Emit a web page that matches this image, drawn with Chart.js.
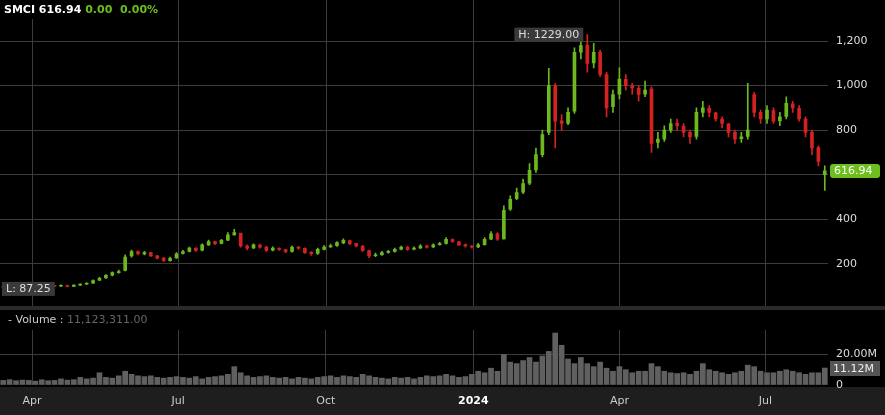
<!DOCTYPE html>
<html>
<head>
<meta charset="utf-8">
<script src="https://cdn.jsdelivr.net/npm/chart.js@4.4.1/dist/chart.umd.min.js"></script>
<style>
  html, body { margin: 0; padding: 0; background: #000; }
  #wrap { width: 885px; height: 415px; position: relative; }
  #priceBox { position: absolute; left: 0; top: 0; width: 885px; height: 306px; }
  #volBox { position: absolute; left: 0; top: 306px; width: 885px; height: 109px; }
</style>
</head>
<body>
<div id="wrap">
  <div id="priceBox"><canvas id="priceChart"></canvas></div>
  <div id="volBox"><canvas id="volChart"></canvas></div>
</div>
<script>
// days since 14 Mar 2023, one candle every 4 calendar days
const step = 4;
const opens = [
  98, 95, 93, 90, 93, 97, 100, 98, 101, 99, 102, 98, 104, 108, 113, 126, 136, 149, 160, 170,
  235, 255, 244, 250, 236, 226, 214, 226, 246, 256, 270, 261, 285, 300, 291, 306, 330, 338, 279, 271,
  284, 275, 261, 269, 264, 256, 274, 269, 251, 246, 264, 276, 281, 294, 304, 291, 279, 259, 236, 241,
  251, 256, 266, 274, 266, 271, 280, 276, 286, 291, 309, 299, 286, 279, 276, 286, 310, 334, 312, 445,
  492, 522, 562, 622, 690, 790, 1000, 842, 832, 885, 1150, 1182, 1102, 1150, 1050, 905, 962, 1028, 998, 988,
  962, 985, 745, 760, 800, 832, 818, 790, 772, 880, 898, 878, 850, 828, 790, 762, 772, 960, 880, 850,
  888, 842, 862, 918, 898, 850, 790, 722, 600
];
const closes = [
  95, 93, 90, 92, 97, 100, 98, 101, 99, 102, 98, 104, 108, 112, 125, 135, 148, 160, 165, 230,
  255, 245, 250, 235, 225, 215, 225, 245, 255, 270, 260, 285, 300, 290, 305, 330, 340, 280, 270, 285,
  275, 260, 270, 265, 255, 275, 270, 250, 245, 265, 275, 280, 295, 305, 290, 280, 260, 235, 240, 250,
  255, 265, 275, 265, 270, 280, 275, 285, 290, 310, 300, 285, 280, 275, 285, 310, 335, 310, 440, 490,
  520, 560, 620, 690, 780, 1000, 840, 830, 880, 1150, 1180, 1100, 1150, 1050, 900, 960, 1030, 1000, 990, 960,
  980, 740, 760, 800, 830, 820, 790, 770, 880, 900, 880, 850, 830, 790, 760, 770, 800, 880, 850, 890,
  840, 860, 920, 900, 850, 790, 720, 660, 617
];
const highs = [
  100, 97, 95, 93, 99, 103, 102, 103, 103, 105, 104, 106, 110, 116, 128, 139, 152, 164, 172, 240,
  262, 258, 256, 252, 238, 228, 230, 250, 260, 275, 272, 290, 306, 302, 310, 340, 355, 300, 285, 290,
  288, 278, 276, 272, 266, 280, 278, 272, 255, 270, 282, 288, 300, 312, 306, 292, 282, 262, 248, 256,
  260, 270, 280, 278, 276, 286, 284, 290, 296, 318, 312, 300, 288, 282, 292, 318, 345, 340, 460, 505,
  540, 580, 650, 720, 800, 1078, 1010, 870, 900, 1170, 1200, 1229, 1190, 1160, 1060, 980, 1080, 1050, 1010, 1000,
  1020, 995, 790, 820, 850, 850, 830, 800, 900, 930, 910, 880, 860, 830, 800, 790, 1010, 970, 890, 910,
  900, 880, 950, 930, 910, 860, 800, 730, 640
];
const lows = [
  92, 90, 87.25, 88, 92, 96, 96, 97, 97, 98, 96, 97, 103, 107, 112, 124, 134, 146, 158, 168,
  230, 240, 240, 233, 222, 210, 212, 224, 243, 253, 256, 258, 282, 286, 289, 304, 328, 275, 262, 268,
  270, 255, 258, 260, 250, 252, 264, 246, 238, 242, 262, 274, 278, 290, 286, 276, 255, 228, 232, 238,
  248, 252, 262, 260, 262, 268, 270, 272, 284, 288, 296, 282, 275, 270, 272, 284, 308, 305, 310, 440,
  488, 515, 555, 610, 680, 780, 720, 800, 825, 875, 1120, 1060, 1080, 1040, 860, 880, 940, 980, 960, 930,
  950, 700, 720, 750, 790, 800, 770, 740, 760, 860, 860, 840, 810, 770, 740, 745, 760, 860, 830, 830,
  830, 820, 850, 880, 840, 770, 690, 640, 530
];
const volumes = [
  3, 3.5, 2.8, 3.2, 3, 2.5, 3.4, 2.8, 3, 4, 3.2, 3.5, 5, 4, 4.5, 8, 5, 4.5, 6, 9,
  7, 6, 5.5, 6, 5, 4.5, 5, 5.5, 5, 4.5, 5.5, 4, 5, 5.5, 6, 7, 12, 8, 6, 5,
  5.5, 6, 5, 4.5, 5, 4, 5, 4.5, 4, 5, 5.5, 6, 5, 6, 5.5, 5, 7, 6, 5, 4.5,
  4, 5, 4.5, 5, 4, 5, 6, 5.5, 6, 7, 6, 5, 5.5, 7, 9, 8, 11, 9, 20, 15,
  14, 16, 18, 15, 19, 22, 34, 26, 17, 14, 18, 14, 12, 15, 11, 9, 12, 10, 8, 9,
  9, 14, 12, 9, 8, 7.5, 8, 7, 9, 14, 10, 9, 8, 7, 8, 9, 13, 12, 9, 8,
  8, 9, 10, 9, 8, 7, 8, 8, 11.12
];
const dayTicks = [18, 109, 201, 293, 384, 475];
const dayLabels = ['Apr', 'Jul', 'Oct', '2024', 'Apr', 'Jul'];
const priceTicks = [200, 400, 600, 800, 1000, 1200];

const lastPrice = 616.94;
const upColor = '#6cb81f';
const downColor = '#d42222';
const gridColor = '#3c3c3c';
const font = 'DejaVu Sans';

const days = closes.map((_, i) => i * step);
const candleColors = closes.map((c, i) => c >= opens[i] ? upColor : downColor);

function fixWidth(scale) { scale.width = 57; }
function setTicks(values) {
  return function (scale) { scale.ticks = values.map(v => ({ value: v })); };
}
function isYear(ctx) {
  return !!ctx.tick && dayLabels[dayTicks.indexOf(ctx.tick.value)] === '2024';
}

const xCommon = {
  type: 'linear', min: -2, max: 514, offset: false,
  afterBuildTicks: setTicks(dayTicks),
  grid: { color: gridColor, drawTicks: false, offset: false },
  border: { display: false }
};

const priceOverlay = {
  id: 'priceOverlay',
  beforeDraw(chart) {
    const c = chart.ctx, x = chart.scales.x;
    c.save();
    c.fillStyle = '#000';
    c.fillRect(0, 0, chart.width, chart.height);
    // month grid lines (x axis itself is hidden in this panel)
    c.strokeStyle = gridColor;
    c.lineWidth = 1;
    dayTicks.forEach(d => {
      const px = Math.round(x.getPixelForValue(d)) + 0.5;
      c.beginPath();
      c.moveTo(px, 0);
      c.lineTo(px, chart.height);
      c.stroke();
    });
    c.restore();
  },
  afterDraw(chart) {
    const c = chart.ctx, x = chart.scales.x, y = chart.scales.y;
    c.save();
    c.font = 'bold 11px ' + font;
    c.textBaseline = 'middle';
    let px = 4;
    c.fillStyle = '#000';
    c.fillRect(0, 0, 175, 19);
    c.fillStyle = '#fff';
    c.fillText('SMCI', px, 10); px += c.measureText('SMCI ').width;
    c.fillText('616.94', px, 10); px += c.measureText('616.94 ').width;
    c.fillStyle = '#6cbf1c';
    c.fillText('0.00  0.00%', px, 10);
    c.font = '11px ' + font;
    const hi = Math.max(...highs), lo = Math.min(...lows);
    const hx = x.getPixelForValue(days[highs.indexOf(hi)]);
    let t = 'H: ' + hi.toFixed(2), w = c.measureText(t).width + 8;
    c.fillStyle = '#3a3a3a';
    c.fillRect(hx - w - 4, y.getPixelForValue(hi) - 7, w, 14);
    c.fillStyle = '#ddd';
    c.fillText(t, hx - w, y.getPixelForValue(hi));
    const ly = y.getPixelForValue(lo);
    t = 'L: ' + lo.toFixed(2); w = c.measureText(t).width + 8;
    c.fillStyle = '#3a3a3a';
    c.fillRect(2, ly - 7, w, 14);
    c.fillStyle = '#ddd';
    c.fillText(t, 6, ly);
    const lp = y.getPixelForValue(lastPrice);
    c.fillStyle = '#6cbf1c';
    c.beginPath();
    c.roundRect(chart.chartArea.right + 2, lp - 7, 50, 14, 3);
    c.fill();
    c.fillStyle = '#fff';
    c.fillText(lastPrice.toFixed(2), chart.chartArea.right + 6, lp);
    c.restore();
  }
};

new Chart(document.getElementById('priceChart'), {
  type: 'bar',
  data: {
    datasets: [
      {
        data: days.map((d, i) => ({ x: d, y: [lows[i], highs[i]] })),
        backgroundColor: candleColors, barThickness: 1, grouped: false
      },
      {
        data: days.map((d, i) => ({ x: d, y: [opens[i], closes[i]] })),
        backgroundColor: candleColors, barThickness: 3, minBarLength: 1, grouped: false
      }
    ]
  },
  options: {
    responsive: true, maintainAspectRatio: false, animation: false,
    layout: { autoPadding: false, padding: 0 },
    plugins: { legend: { display: false }, tooltip: { enabled: false } },
    scales: {
      x: Object.assign({}, xCommon, { display: false }),
      y: {
        position: 'right', min: 76, max: 1319,
        afterBuildTicks: setTicks(priceTicks),
        afterFit: fixWidth,
        grid: { color: gridColor, drawTicks: false },
        border: { display: false },
        ticks: {
          color: '#ddd', padding: 8, font: { family: font, size: 11 },
          callback: v => v.toLocaleString('en-US')
        }
      }
    }
  },
  plugins: [priceOverlay]
});

const volOverlay = {
  id: 'volOverlay',
  beforeDraw(chart) {
    const c = chart.ctx, a = chart.chartArea;
    c.save();
    c.fillStyle = '#000';
    c.fillRect(0, 0, chart.width, chart.height);
    c.fillStyle = '#2a2a2a';
    c.fillRect(0, 0, chart.width, 4);
    c.fillStyle = '#1e1e1e';
    c.fillRect(0, a.bottom + 2, chart.width, chart.height - a.bottom);
    c.restore();
  },
  afterDraw(chart) {
    const c = chart.ctx, y = chart.scales.y, a = chart.chartArea;
    c.save();
    c.font = '11px ' + font;
    c.textBaseline = 'middle';
    c.fillStyle = '#ccc';
    c.fillText('- Volume : ', 8, 14);
    c.fillStyle = '#666';
    c.fillText('11,123,311.00', 8 + c.measureText('- Volume : ').width, 14);
    const last = volumes[volumes.length - 1];
    const vy = y.getPixelForValue(last);
    c.fillStyle = '#555';
    c.fillRect(a.right + 2, vy - 7, 50, 15);
    c.fillStyle = '#eee';
    c.fillText(last.toFixed(2) + 'M', a.right + 5, vy + 1);
    c.restore();
  }
};

new Chart(document.getElementById('volChart'), {
  type: 'bar',
  data: {
    datasets: [{
      data: days.map((d, i) => ({ x: d, y: volumes[i] })),
      backgroundColor: '#606060', barThickness: 5
    }]
  },
  options: {
    responsive: true, maintainAspectRatio: false, animation: false,
    layout: { autoPadding: false, padding: { top: 24, bottom: 0, left: 0, right: 0 } },
    plugins: { legend: { display: false }, tooltip: { enabled: false } },
    scales: {
      x: Object.assign({}, xCommon, {
        afterFit: function (s) { s.height = 30; },
        ticks: {
          padding: 10, autoSkip: false, maxRotation: 0,
          color: ctx => isYear(ctx) ? '#fff' : '#ccc',
          font: ctx => ({ family: font, size: 11, weight: isYear(ctx) ? 'bold' : 'normal' }),
          callback: v => dayLabels[dayTicks.indexOf(v)]
        }
      }),
      y: {
        position: 'right', min: 0, max: 36,
        afterBuildTicks: setTicks([0, 20]),
        afterFit: fixWidth,
        grid: { color: ctx => ctx.tick && ctx.tick.value === 20 ? gridColor : 'rgba(0,0,0,0)', drawTicks: false },
        border: { display: false },
        ticks: {
          color: '#ddd', padding: 8, font: { family: font, size: 11 },
          callback: v => v === 0 ? '0' : v.toFixed(2) + 'M'
        }
      }
    }
  },
  plugins: [volOverlay]
});
</script>
</body>
</html>
